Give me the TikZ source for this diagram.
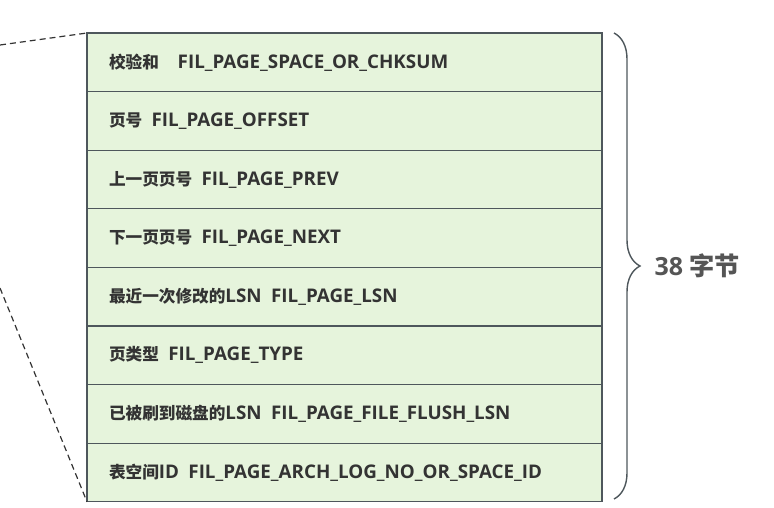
\documentclass[tikz,border=0pt]{standalone}
\usepackage{fontspec}
\setmainfont{Open Sans}
\newfontfamily\cjk{Noto Sans CJK SC}[Scale=0.885]
\usetikzlibrary{positioning,decorations.pathreplacing}

\definecolor{pagegreen}{HTML}{E6F4DC}
\definecolor{pageline}{HTML}{4E575C}
\definecolor{pagetext}{HTML}{333333}
\definecolor{bracetext}{HTML}{555555}

\begin{document}
\begin{tikzpicture}[
    x=1pt, y=-1pt,
    node distance=0pt,
    field/.style={draw=pageline, line width=1.2pt, fill=pagegreen, anchor=north west, outer sep=0pt,
        minimum width=515pt, minimum height=58.6pt, text width=471pt, inner xsep=22pt,
        align=left, text=pagetext, font=\bfseries\fontsize{18.8}{22}\selectfont},
    guide/.style={draw=pagetext, dashed, dash pattern=on 6pt off 4pt, line width=1.2pt}
]
\useasboundingbox (0,0) rectangle (774,508);
% page header fields
\node[field] (chksum) at (87,33) {{\cjk 校验和}\quad FIL\_PAGE\_SPACE\_OR\_CHKSUM};
\node[field, below=of chksum] (offset) {{\cjk 页号}\enspace FIL\_PAGE\_OFFSET};
\node[field, below=of offset] (prev) {{\cjk 上一页页号}\enspace FIL\_PAGE\_PREV};
\node[field, below=of prev] (next) {{\cjk 下一页页号}\enspace FIL\_PAGE\_NEXT};
\node[field, below=of next] (lsn) {{\cjk 最近一次修改的}LSN\enspace FIL\_PAGE\_LSN};
\node[field, below=of lsn] (type) {{\cjk 页类型}\enspace FIL\_PAGE\_TYPE};
\node[field, below=of type] (flush) {{\cjk 已被刷到磁盘的}LSN\enspace FIL\_PAGE\_FILE\_FLUSH\_LSN};
\node[field, below=of flush] (space) {{\cjk 表空间}ID\enspace FIL\_PAGE\_ARCH\_LOG\_NO\_OR\_SPACE\_ID};
% dashed zoom lines
\coordinate (zoomtop) at (0,45);
\coordinate (zoombot) at (0,288);
\draw[guide] (zoomtop) -- (chksum.north west);
\draw[guide] (zoombot) -- (space.south west);
% size brace
\coordinate (bracetop) at (614,33);
\coordinate (bracebot) at (614,499);
\draw[pageline, line width=1.4pt, decorate, decoration={brace, amplitude=26pt, mirror, raise=0pt}]
    (bracebot) -- (bracetop) coordinate[midway, xshift=26pt] (bracetip);
\node[right=11pt of bracetip, text=bracetext, font=\bfseries\fontsize{25}{28}\selectfont] (size)
    {38 {\cjk\fontsize{28.5}{30}\selectfont 字节}};
\end{tikzpicture}
\end{document}
